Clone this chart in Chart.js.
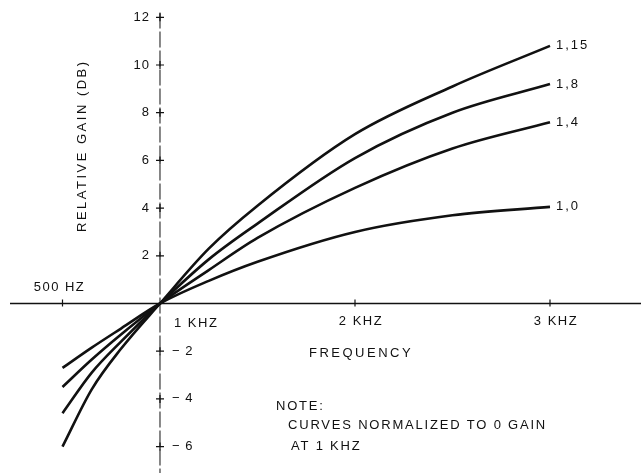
<!DOCTYPE html>
<html>
<head>
<meta charset="utf-8">
<script src="https://cdn.jsdelivr.net/npm/chart.js@4.4.1/dist/chart.umd.min.js"></script>
<style>
  html, body { margin: 0; padding: 0; background: #fff; }
  #wrap { width: 641px; height: 473px; position: relative; }
</style>
</head>
<body>
<div id="wrap"><canvas id="gain-chart"></canvas></div>
<script>
// frequency in kHz
const freqs = [0.5, 0.65, 0.8, 1, 1.25, 1.5, 2, 2.5, 3];

const curveNames = ['1,15', '1,8', '1,4', '1,0'];
const gain115 = [-6.0, -3.6, -1.9, 0, 2.3, 4.1, 7.1, 9.1, 10.8];
const gain18  = [-4.6, -2.9, -1.6, 0, 1.85, 3.35, 6.1, 8.0, 9.2];
const gain14  = [-3.5, -2.35, -1.3, 0, 1.4, 2.75, 4.85, 6.5, 7.6];
const gain10  = [-2.7, -1.85, -1.05, 0, 0.95, 1.75, 3.0, 3.7, 4.05];

const yTicks = [12, 10, 8, 6, 4, 2, -2, -4, -6];
const xTicks = [0.5, 2, 3];
const xTickLabels = ['500 HZ', '2 KHZ', '3 KHZ'];

const INK = '#111';
const FONT = '13px "Liberation Sans", Arial, sans-serif';

function toPoints(ys) {
    return freqs.map((f, i) => ({ x: f, y: ys[i] }));
}

// axes drawn through the middle, crossing at 1 kHz / 0 dB
const crossAxes = {
    id: 'crossAxes',
    beforeDatasetsDraw(chart) {
        const { ctx, chartArea } = chart;
        const xs = chart.scales.x, ys = chart.scales.y;
        const ox = xs.getPixelForValue(1);
        const oy = ys.getPixelForValue(0);
        ctx.save();
        ctx.strokeStyle = INK;

        // horizontal axis
        ctx.lineWidth = 1.5;
        ctx.beginPath();
        ctx.moveTo(chartArea.left + 10, oy);
        ctx.lineTo(chartArea.right, oy);
        ctx.stroke();

        // vertical axis (thin, a bit broken)
        ctx.lineWidth = 1;
        ctx.setLineDash([16, 3]);
        ctx.beginPath();
        ctx.moveTo(ox, ys.getPixelForValue(12.2));
        ctx.lineTo(ox, chartArea.bottom);
        ctx.stroke();
        ctx.setLineDash([]);

        // cross ticks
        ctx.lineWidth = 1.2;
        yTicks.forEach(v => {
            const y = ys.getPixelForValue(v);
            ctx.beginPath();
            ctx.moveTo(ox - 4, y);
            ctx.lineTo(ox + 4, y);
            ctx.moveTo(ox, y - 4);
            ctx.lineTo(ox, y + 4);
            ctx.stroke();
        });
        xTicks.forEach(v => {
            const x = xs.getPixelForValue(v);
            ctx.beginPath();
            ctx.moveTo(x, oy - 4);
            ctx.lineTo(x, oy + 3);
            ctx.stroke();
        });

        // tick labels
        ctx.fillStyle = INK;
        ctx.font = FONT;
        ctx.textBaseline = 'middle';
        ctx.letterSpacing = '1px';
        yTicks.forEach(v => {
            const y = ys.getPixelForValue(v);
            if (v > 0) {
                ctx.textAlign = 'right';
                ctx.fillText(String(v), ox - 10, y);
            } else {
                ctx.textAlign = 'left';
                ctx.fillText('\u2212 ' + Math.abs(v), ox + 12, y);
            }
        });
        ctx.letterSpacing = '1.5px';
        ctx.textAlign = 'center';
        xTicks.forEach((v, i) => {
            const x = xs.getPixelForValue(v);
            const below = v > 1;
            ctx.fillText(xTickLabels[i], below ? x + 6 : x - 3, below ? oy + 18 : oy - 16);
        });
        ctx.textAlign = 'left';
        ctx.fillText('1 KHZ', ox + 14, oy + 20);

        // axis titles
        ctx.letterSpacing = '2.5px';
        ctx.textAlign = 'left';
        ctx.fillText('FREQUENCY', 309, oy + 50);
        ctx.save();
        ctx.translate(ox - 78, 232);
        ctx.rotate(-Math.PI / 2);
        ctx.fillText('RELATIVE GAIN (DB)', 0, 0);
        ctx.restore();

        // note
        ctx.letterSpacing = '1.8px';
        ctx.fillText('NOTE:', 276, 406);
        ctx.fillText('CURVES NORMALIZED TO 0 GAIN', 288, 425);
        ctx.fillText('AT 1 KHZ', 291, 446);
        ctx.restore();
    },
    afterDatasetsDraw(chart) {
        const { ctx } = chart;
        ctx.save();
        ctx.fillStyle = INK;
        ctx.font = FONT;
        ctx.textBaseline = 'middle';
        ctx.textAlign = 'left';
        ctx.letterSpacing = '2px';
        chart.data.datasets.forEach((ds, i) => {
            const meta = chart.getDatasetMeta(i);
            const last = meta.data[meta.data.length - 1];
            ctx.fillText(curveNames[i], last.x + 6, last.y);
        });
        ctx.restore();
    }
};

const lineStyle = {
    borderColor: INK,
    borderWidth: 2.6,
    pointRadius: 0,
    fill: false,
    cubicInterpolationMode: 'monotone'
};

new Chart(document.getElementById('gain-chart'), {
    type: 'line',
    data: {
        datasets: [
            { label: curveNames[0], data: toPoints(gain115), ...lineStyle },
            { label: curveNames[1], data: toPoints(gain18), ...lineStyle },
            { label: curveNames[2], data: toPoints(gain14), ...lineStyle },
            { label: curveNames[3], data: toPoints(gain10), ...lineStyle }
        ]
    },
    options: {
        responsive: true,
        maintainAspectRatio: false,
        animation: false,
        layout: { padding: 0 },
        scales: {
            x: { type: 'linear', min: 0.1795, max: 3.4667, display: false },
            y: { type: 'linear', min: -7.107, max: 12.725, display: false }
        },
        plugins: {
            legend: { display: false },
            tooltip: { enabled: false }
        }
    },
    plugins: [crossAxes]
});
</script>
</body>
</html>
